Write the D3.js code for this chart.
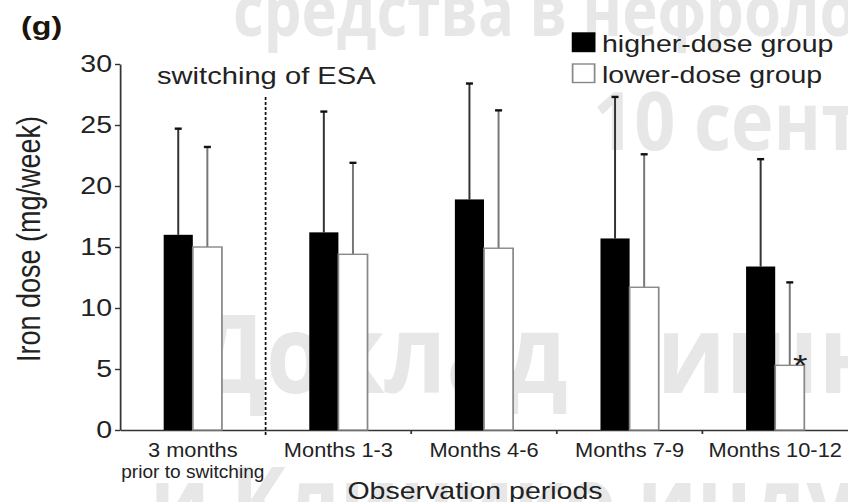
<!DOCTYPE html>
<html><head><meta charset="utf-8">
<script src="https://cdn.jsdelivr.net/npm/d3@7"></script>
<style>body{margin:0;background:#fff}svg{display:block}</style>
</head><body>
<svg id="c" width="848" height="502"></svg>
<script>
// ---- data ----
const categories = ["3 months|prior to switching", "Months 1-3", "Months 4-6", "Months 7-9", "Months 10-12"];
const seriesNames = ["higher-dose group", "lower-dose group"];
const higherMean = [16.0, 16.2, 18.9, 15.7, 13.4];
const higherSD   = [8.7, 9.9, 9.5, 11.6, 8.8];
const lowerMean  = [15.0, 14.4, 14.9, 11.7, 5.3];
const lowerSD    = [8.2, 7.5, 11.3, 10.9, 6.8];
const yTicks = [0, 5, 10, 15, 20, 25, 30];
const significant = [false, false, false, false, true];
const panelLabel = "(g)";
const switchLabel = "switching of ESA";
const yTitle = "Iron dose (mg/week)";
const xTitle = "Observation periods";
const watermarkLines = ["средства в нефрологии", "10 сентября", "Доклад Вишневского", "и Клинико индустриальный"];

// ---- layout ----
const SX = 1.24;              // horizontal stretch of the original figure
const X = v => v / SX;
const FONT = "'Liberation Sans', Arial, Helvetica, sans-serif";
const svg = d3.select("#c");

// watermark (behind)
const wmPos = [
  {x: 233, y: 36, s: 72, k: 0.83},
  {x: 593, y: 150, s: 80, k: 0.9},
  {x: 193, y: 393, s: 110, k: 0.87},
  {x: 150, y: 535, s: 95, k: 0.87}
];
svg.append("g").selectAll("text").data(watermarkLines).join("text")
  .attr("transform", (d, i) => `translate(${wmPos[i].x},${wmPos[i].y}) scale(${wmPos[i].k},1)`)
  .attr("font-size", (d, i) => wmPos[i].s)
  .attr("font-family", "'Open Sans', 'Noto Sans', sans-serif")
  .attr("font-weight", 700)
  .attr("fill", "#e7e7e7")
  .text(d => d);

const g = svg.append("g").attr("transform", `scale(${SX},1)`).attr("font-family", FONT);

const x = d3.scaleBand().domain(categories).range([X(120), X(848)]).paddingInner(0).paddingOuter(0);
const xs = d3.scaleBand().domain(seriesNames).range([0, x.bandwidth()]).paddingInner(0).paddingOuter(1.5);
const y = d3.scaleLinear().domain([0, 30]).range([430, 64]);

// y axis
const ya = g.append("g").attr("transform", `translate(${X(120)},0)`)
  .call(d3.axisLeft(y).tickValues(yTicks).tickSize(X(5)).tickSizeOuter(0).tickPadding(X(3)));
ya.select(".domain").attr("stroke", "#333").attr("stroke-width", 1.4);
ya.selectAll(".tick line").attr("stroke", "#333").attr("stroke-width", 1.4);
ya.selectAll(".tick text").attr("font-size", 23).attr("fill", "#222").attr("font-family", FONT);

// x axis
const xa = g.append("g").attr("transform", `translate(0,${y(0)})`)
  .call(d3.axisBottom(x).tickSize(0).tickFormat(""));
xa.select(".domain").attr("stroke", "#333").attr("stroke-width", 1.4);
xa.selectAll(".tick").remove();
g.selectAll(".btick").data(categories.slice(2)).join("line")
  .attr("x1", d => x(d)).attr("x2", d => x(d))
  .attr("y1", y(0)).attr("y2", y(0) + 4)
  .attr("stroke", "#333").attr("stroke-width", 1.4);

// switching line
g.append("line")
  .attr("x1", x(categories[1])).attr("x2", x(categories[1]))
  .attr("y1", 97).attr("y2", y(0) + 7)
  .attr("stroke", "#111").attr("stroke-width", 1.4).attr("stroke-dasharray", "3,2");
g.append("text").attr("x", X(157)).attr("y", 84).attr("font-size", 23.5).attr("fill", "#222").text(switchLabel);

// bars data
const rows = categories.map((c, i) => [
  {c, s: seriesNames[0], m: higherMean[i], sd: higherSD[i], i},
  {c, s: seriesNames[1], m: lowerMean[i], sd: lowerSD[i], i}
]).flat();
const bx = d => x(d.c) + xs(d.s);
const bw = xs.bandwidth();

// error bars
g.selectAll(".err").data(rows).join("line")
  .attr("x1", d => bx(d) + bw / 2).attr("x2", d => bx(d) + bw / 2)
  .attr("y1", d => y(d.m)).attr("y2", d => y(d.m + d.sd))
  .attr("stroke", d => d.s === seriesNames[0] ? "#333" : "#777").attr("stroke-width", 1.6);
g.selectAll(".cap").data(rows).join("line")
  .attr("x1", d => bx(d) + bw / 2 - X(3.5)).attr("x2", d => bx(d) + bw / 2 + X(3.5))
  .attr("y1", d => y(d.m + d.sd)).attr("y2", d => y(d.m + d.sd))
  .attr("stroke", "#111").attr("stroke-width", 2.4);

// bars
g.selectAll(".bar").data(rows).join("rect")
  .attr("x", d => bx(d)).attr("width", bw)
  .attr("y", d => y(d.m)).attr("height", d => y(0) - y(d.m))
  .attr("fill", d => d.s === seriesNames[0] ? "#000" : "#fff")
  .attr("stroke", d => d.s === seriesNames[0] ? "#000" : "#888")
  .attr("stroke-width", d => d.s === seriesNames[0] ? 0 : 1.4);

// significance
g.selectAll(".sig").data(rows.filter(d => d.s === seriesNames[1] && significant[d.i])).join("text")
  .attr("x", d => bx(d) + bw * 0.86).attr("y", d => y(d.m) + 10)
  .attr("text-anchor", "middle").attr("font-size", 30).attr("fill", "#222").text("*");

// category labels
const lab = g.selectAll(".lab").data(categories).join("text")
  .attr("text-anchor", "middle").attr("fill", "#222")
  .attr("transform", d => `translate(${x(d) + x.bandwidth() / 2},0) scale(0.88,1)`);
lab.each(function(d) {
  const parts = d.split("|");
  const t = d3.select(this);
  parts.forEach((p, k) => {
    t.append("tspan").attr("x", 0).attr("y", k === 0 ? 457 : 478)
      .attr("font-size", k === 0 ? 20 : 17.5).text(p);
  });
});

// titles
g.append("text").attr("x", X(475)).attr("y", 499).attr("text-anchor", "middle")
  .attr("font-size", 23).attr("fill", "#222").text(xTitle);
g.append("text").attr("transform", `translate(${X(40)},239) rotate(-90)`)
  .attr("text-anchor", "middle").attr("font-size", 27).attr("fill", "#222").text(yTitle);
g.append("text").attr("x", X(21)).attr("y", 35).attr("font-size", 26).attr("font-weight", 700)
  .attr("fill", "#1c1408").text(panelLabel);

// legend
const leg = g.selectAll(".leg").data(seriesNames).join("g")
  .attr("transform", (d, i) => `translate(${X(572)},${33 + i * 31})`);
leg.append("rect").attr("x", 0.5).attr("y", 0).attr("width", X(22)).attr("height", 18.5)
  .attr("fill", (d, i) => i === 0 ? "#000" : "#fff")
  .attr("stroke", (d, i) => i === 0 ? "#000" : "#888").attr("stroke-width", 1.4);
leg.append("text").attr("x", X(30)).attr("y", 19).attr("font-size", 23).attr("fill", "#222").text(d => d);
</script>
</body></html>
